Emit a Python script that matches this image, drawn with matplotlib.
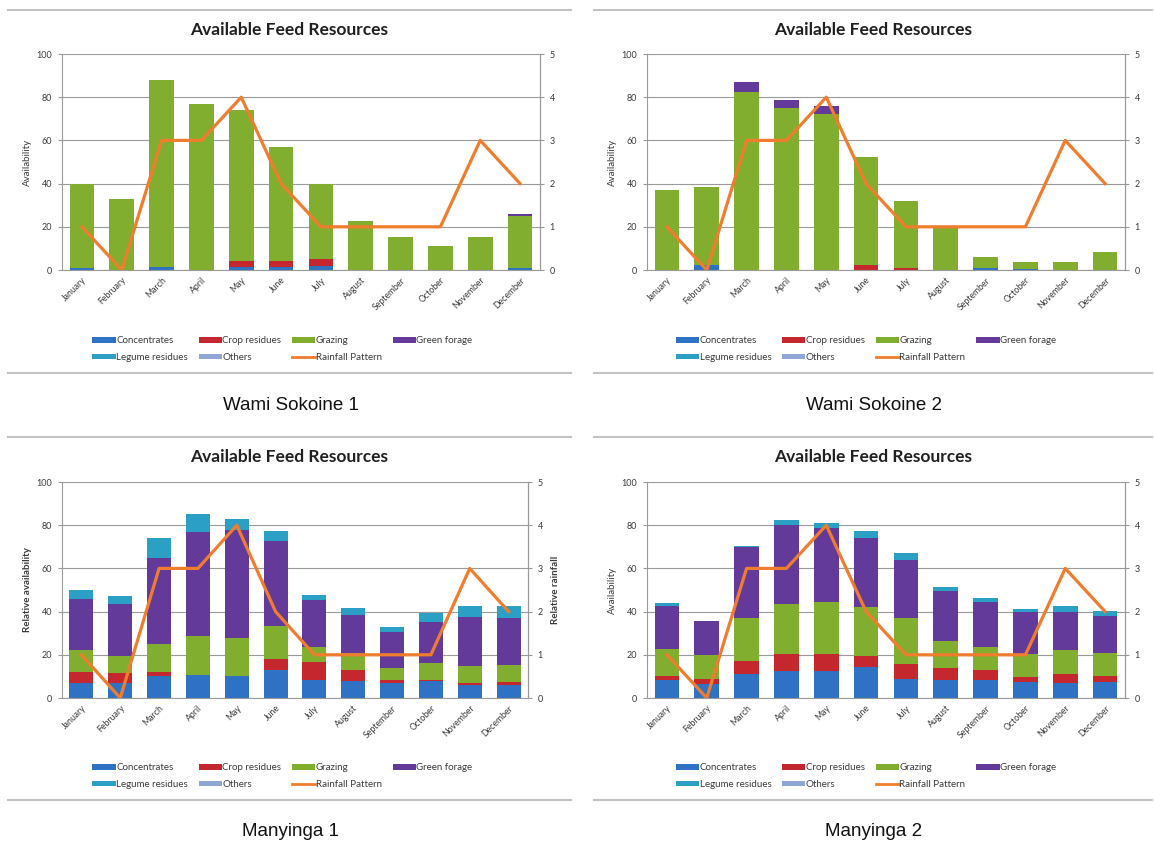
import matplotlib
matplotlib.use("Agg")
import matplotlib.pyplot as plt
import numpy as np
from matplotlib.patches import Patch
from matplotlib.lines import Line2D

MONTHS = ["January", "February", "March", "April", "May", "June", "July",
          "August", "September", "October", "November", "December"]
RAINFALL = [1, 0, 3, 3, 4, 2, 1, 1, 1, 1, 3, 2]

# feed categories, stacked bottom to top
CATEGORIES = ["Concentrates", "Crop residues", "Grazing", "Green forage",
              "Legume residues", "Others"]

# Wami Sokoine 1
WS1_CONC = [1.0, 0, 1.5, 0, 1.5, 1.5, 2.0, 0, 0, 0, 0, 1.0]
WS1_CROP = [0, 0, 0, 0, 2.5, 2.5, 3.0, 0, 0, 0, 0, 0]
WS1_GRAZ = [39.0, 33.0, 86.5, 77.0, 70.0, 53.0, 35.0, 22.5, 15.5, 11.0, 15.5, 24.0]
WS1_GREEN = [0, 0, 0, 0, 0, 0, 0, 0, 0, 0, 0, 0.8]
WS1_LEG = [0] * 12
WS1_OTH = [0] * 12

# Wami Sokoine 2
WS2_CONC = [0, 2.5, 0, 0, 0, 0, 0, 0, 0.8, 0.6, 0, 0]
WS2_CROP = [0, 0, 0, 0, 0, 2.5, 1.0, 0, 0, 0, 0, 0]
WS2_GRAZ = [37.0, 36.0, 82.5, 75.0, 72.0, 50.0, 31.0, 19.7, 5.2, 3.3, 3.9, 8.2]
WS2_GREEN = [0, 0, 4.5, 3.5, 4.0, 0, 0, 0, 0, 0, 0, 0]
WS2_LEG = [0] * 12
WS2_OTH = [0] * 12

# Manyinga 1
MY1_CONC = [7.0, 7.0, 10.0, 10.5, 10.0, 13.0, 8.5, 8.0, 7.0, 8.0, 6.0, 6.2]
MY1_CROP = [5.0, 4.5, 2.0, 0, 0, 5.0, 8.0, 5.0, 1.5, 0.3, 1.0, 1.0]
MY1_GRAZ = [10.0, 8.0, 13.0, 18.0, 18.0, 15.5, 7.0, 8.0, 5.5, 8.0, 8.0, 8.0]
MY1_GREEN = [24.0, 24.0, 40.0, 48.5, 50.0, 39.0, 22.0, 17.5, 16.5, 19.0, 22.5, 22.0]
MY1_LEG = [4.0, 3.5, 9.0, 8.0, 5.0, 5.0, 2.0, 3.0, 2.5, 4.0, 5.0, 5.5]
MY1_OTH = [0] * 12

# Manyinga 2
MY2_CONC = [8.5, 6.6, 11.0, 12.5, 12.5, 14.4, 9.0, 8.5, 8.5, 7.3, 6.9, 7.3]
MY2_CROP = [1.7, 2.2, 6.0, 7.7, 7.7, 4.9, 6.9, 5.5, 4.3, 2.4, 4.2, 2.9]
MY2_GRAZ = [12.3, 11.2, 20.2, 23.2, 24.4, 22.8, 21.3, 12.2, 11.0, 10.8, 11.0, 10.6]
MY2_GREEN = [20.0, 15.5, 32.5, 36.8, 34.3, 32.1, 26.5, 23.5, 20.8, 19.5, 17.9, 17.0]
MY2_LEG = [1.5, 0.3, 0.5, 2.2, 2.3, 3.0, 3.4, 1.7, 1.9, 1.2, 2.4, 2.3]
MY2_OTH = [0] * 12

COLORS = ["#2f72c4", "#c4282e", "#82ae30", "#633a9a", "#2b9fc4", "#8fa6d6"]
RAIN_COLOR = "#ef7d2d"
GRID = "#9a9a9a"
TEXT = "#3a3a3a"
FONT = "Lato"

W, H = 1154, 848


def px_axes(fig, left, right, top, bottom):
    return fig.add_axes([left / W, 1 - bottom / H, (right - left) / W,
                         (bottom - top) / H])


def hline(fig, x0, x1, y):
    fig.add_artist(Line2D([x0 / W, x1 / W], [1 - y / H, 1 - y / H],
                          transform=fig.transFigure, color="#c2c2c2", lw=1.5))


def chart(fig, box, plot, caption, series, ylabel, y2label=None, bold=False):
    bx0, by0, bx1, by1 = box
    hline(fig, bx0, bx1, by0)
    hline(fig, bx0, bx1, by1)
    ax = px_axes(fig, *plot)
    x = np.arange(len(MONTHS))
    bottom = np.zeros(len(MONTHS))
    for vals, col in zip(series, COLORS):
        vals = np.asarray(vals, dtype=float)
        ax.bar(x, vals, 0.62, bottom=bottom, color=col, zorder=2)
        bottom += vals
    ax.set_xlim(-0.5, len(MONTHS) - 0.5)
    ax.set_ylim(0, 100)
    ax.set_yticks(range(0, 101, 20))
    ax.grid(axis="y", color=GRID, lw=0.8, zorder=0)
    ax.set_axisbelow(True)
    ax.set_xticks(x)
    ax.set_xticklabels(MONTHS, rotation=45, ha="right", rotation_mode="anchor",
                       fontsize=6.3, color=TEXT, family=FONT)
    ax.tick_params(axis="x", length=0, pad=4)
    ax.tick_params(axis="y", labelsize=6.5, colors=TEXT, length=3,
                   color=GRID, pad=4)
    for lab in ax.get_yticklabels():
        lab.set_family(FONT)
    ax.spines["top"].set_visible(False)
    for side in ("left", "bottom", "right"):
        ax.spines[side].set_color(GRID)
        ax.spines[side].set_linewidth(0.8)
    ax.set_ylabel(ylabel, fontsize=7, color=TEXT, family=FONT,
                  fontweight="bold" if bold else "normal", labelpad=3)

    ax2 = ax.twinx()
    ax2.plot(x, RAINFALL, color=RAIN_COLOR, lw=2.3, zorder=3)
    ax2.set_ylim(0, 5)
    ax2.set_yticks(range(0, 6))
    ax2.tick_params(axis="y", labelsize=6.5, colors=TEXT, length=3,
                    color=GRID, pad=4)
    for lab in ax2.get_yticklabels():
        lab.set_family(FONT)
    for side in ("top", "left", "bottom"):
        ax2.spines[side].set_visible(False)
    ax2.spines["right"].set_color(GRID)
    ax2.spines["right"].set_linewidth(0.8)
    if y2label:
        ax2.set_ylabel(y2label, fontsize=7, color=TEXT, family=FONT,
                       fontweight="bold", labelpad=6)

    cx = (bx0 + bx1) / 2
    fig.text(cx / W, 1 - (by0 + 20) / H, "Available Feed Resources",
             ha="center", va="center", fontsize=12.5, fontweight="bold",
             family=FONT, color="#202020")

    # legend: four columns, items ordered so rows read left to right
    h = [Patch(facecolor=c, edgecolor="none") for c in COLORS]
    rain = Line2D([], [], color=RAIN_COLOR, lw=2)
    handles = [h[0], h[4], h[1], h[5], h[2], rain, h[3]]
    labels = ["Concentrates", "Legume residues", "Crop residues", "Others",
              "Grazing", "Rainfall Pattern", "Green forage"]
    fig.legend(handles, labels, ncol=4, frameon=False,
               loc="center", bbox_to_anchor=((cx - 7) / W, 1 - (by0 + 339) / H),
               prop={"family": FONT, "size": 7}, handlelength=2.4,
               handleheight=0.45, handletextpad=0.05, columnspacing=1.1,
               labelspacing=0.75, labelcolor=TEXT)

    fig.text((cx + 1) / W, 1 - (by1 + 32) / H, caption,
             ha="center", va="center", fontsize=13.5,
             family="Liberation Sans", color="#111111")
    return ax


fig = plt.figure(figsize=(W / 100, H / 100), dpi=100)
fig.patch.set_facecolor("white")

chart(fig, (8, 10, 571, 373), (62, 540, 54, 270), "Wami Sokoine 1",
      [WS1_CONC, WS1_CROP, WS1_GRAZ, WS1_GREEN, WS1_LEG, WS1_OTH],
      "Availability")
chart(fig, (594, 10, 1152, 373), (647, 1125, 54, 270), "Wami Sokoine 2",
      [WS2_CONC, WS2_CROP, WS2_GRAZ, WS2_GREEN, WS2_LEG, WS2_OTH],
      "Availability")
chart(fig, (8, 437, 571, 800), (62, 528, 482, 698), "Manyinga 1",
      [MY1_CONC, MY1_CROP, MY1_GRAZ, MY1_GREEN, MY1_LEG, MY1_OTH],
      "Relative availability", "Relative rainfall", bold=True)
chart(fig, (594, 437, 1152, 800), (647, 1125, 482, 698), "Manyinga 2",
      [MY2_CONC, MY2_CROP, MY2_GRAZ, MY2_GREEN, MY2_LEG, MY2_OTH],
      "Availability")

fig.savefig("out.png", dpi=100)
